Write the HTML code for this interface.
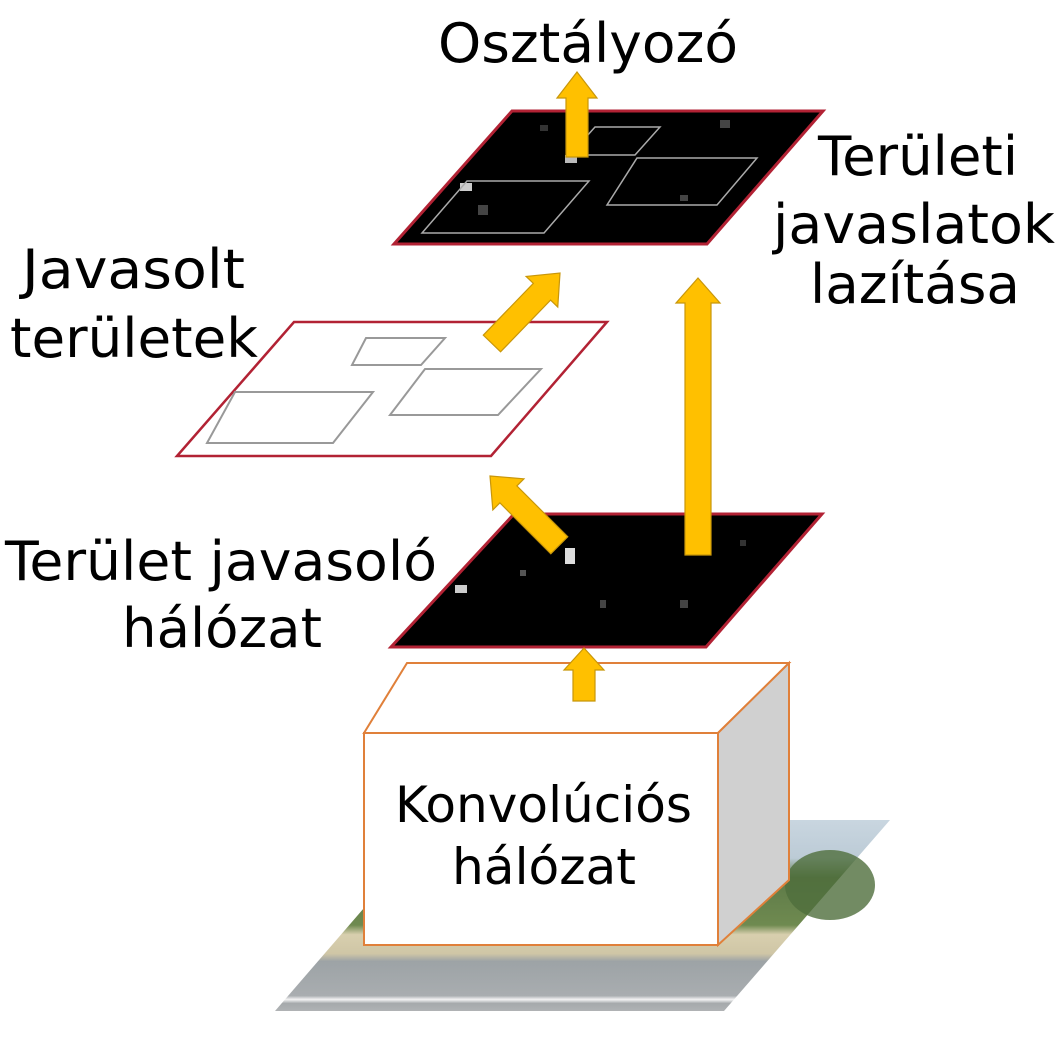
<!DOCTYPE html>
<html><head><meta charset="utf-8"><style>
html,body{margin:0;padding:0;background:#fff;}
svg{display:block;}
text{font-family:"DejaVu Sans","Liberation Sans",sans-serif;fill:#000;}
</style></head><body>
<svg width="1062" height="1044" viewBox="0 0 1062 1044" xmlns="http://www.w3.org/2000/svg">
<defs>
<linearGradient id="ph" x1="0" y1="0" x2="0" y2="1">
<stop offset="0" stop-color="#c9d6e0"/>
<stop offset="0.2" stop-color="#bccbd6"/>
<stop offset="0.3" stop-color="#5d7a48"/>
<stop offset="0.55" stop-color="#6f8a50"/>
<stop offset="0.6" stop-color="#d8cfae"/>
<stop offset="0.7" stop-color="#cfc6a6"/>
<stop offset="0.74" stop-color="#9da3a6"/>
<stop offset="0.92" stop-color="#a9adb0"/>
<stop offset="0.94" stop-color="#f4f4f4"/>
<stop offset="0.96" stop-color="#a5a9ab"/>
<stop offset="1" stop-color="#b0b3b5"/>
</linearGradient>
</defs>

<polygon points="440,820 890,820 724,1011 275,1011" fill="url(#ph)"/>
<ellipse cx="830" cy="885" rx="45" ry="35" fill="#4f6e3c" opacity="0.8"/>

<polygon points="364,733 407,663 789,663 718,733" fill="#fff" stroke="#e0803a" stroke-width="2"/>
<polygon points="718,733 789,663 789,880 718,945" fill="#d0d0d0" stroke="#e0803a" stroke-width="2"/>
<rect x="364" y="733" width="354" height="212" fill="#fff" stroke="#e0803a" stroke-width="2"/>
<text x="395" y="822" font-size="50" textLength="297" lengthAdjust="spacingAndGlyphs">Konvolúciós</text>
<text x="452" y="884" font-size="50" textLength="184" lengthAdjust="spacingAndGlyphs">hálózat</text>

<polygon points="514,514 822,514 706,647 391,647" fill="#000" stroke="#b22234" stroke-width="3"/>
<rect x="565" y="548" width="10" height="16" fill="#ddd"/><rect x="455" y="585" width="12" height="8" fill="#ccc"/>
<rect x="600" y="600" width="6" height="8" fill="#444"/><rect x="680" y="600" width="8" height="8" fill="#444"/>
<rect x="520" y="570" width="6" height="6" fill="#555"/><rect x="740" y="540" width="6" height="6" fill="#333"/>

<polygon points="294,322 607,322 491,456 177,456" fill="#fff" stroke="#b22234" stroke-width="2.5"/>
<g fill="none" stroke="#999" stroke-width="2">
<polygon points="366,338 445,338 421,365 352,365"/>
<polygon points="235,392 373,392 333,443 207,443"/>
<polygon points="425,369 541,369 498,415 390,415"/>
</g>

<polygon points="512,111 823,111 707,244 394,244" fill="#000" stroke="#b22234" stroke-width="3"/>
<rect x="460" y="183" width="12" height="8" fill="#ccc"/><rect x="565" y="155" width="12" height="8" fill="#bbb"/>
<rect x="478" y="205" width="10" height="10" fill="#444"/><rect x="720" y="120" width="10" height="8" fill="#444"/>
<rect x="680" y="195" width="8" height="6" fill="#444"/><rect x="540" y="125" width="8" height="6" fill="#333"/>
<g fill="none" stroke="#aaa" stroke-width="1.5">
<polygon points="595,127 660,127 635,155 570,155"/>
<polygon points="467,181 589,181 544,233 422,233"/>
<polygon points="637,158 757,158 717,205 607,205"/>
</g>

<g fill="#ffc000" stroke="#c8960a" stroke-width="1.2">
<polygon points="584,648 604,670 595,670 595,701 573,701 573,670 564,670"/>
<polygon points="577,72 597,98 588,98 588,157 566,157 566,98 557,98"/>
<polygon points="698,278 720,303 711,303 711,555 685,555 685,303 676,303"/>
<g transform="translate(490,476) rotate(-45)">
<polygon points="0,0 22,26 12,26 12,98 -12,98 -12,26 -22,26"/>
</g>
<g transform="translate(560,273) rotate(44)">
<polygon points="0,0 22,26 12,26 12,98 -12,98 -12,26 -22,26"/>
</g>
</g>

<text x="438" y="62" font-size="54" textLength="300" lengthAdjust="spacingAndGlyphs">Osztályozó</text>
<text x="818" y="175" font-size="54" textLength="200" lengthAdjust="spacingAndGlyphs">Területi</text>
<text x="773" y="243" font-size="54" textLength="282" lengthAdjust="spacingAndGlyphs">javaslatok</text>
<text x="810" y="303" font-size="54" textLength="210" lengthAdjust="spacingAndGlyphs">lazítása</text>
<text x="22" y="288" font-size="54" textLength="223" lengthAdjust="spacingAndGlyphs">Javasolt</text>
<text x="10" y="357" font-size="54" textLength="248" lengthAdjust="spacingAndGlyphs">területek</text>
<text x="5" y="580" font-size="54" textLength="432" lengthAdjust="spacingAndGlyphs">Terület javasoló</text>
<text x="122" y="647" font-size="54" textLength="200" lengthAdjust="spacingAndGlyphs">hálózat</text>
</svg>
</body></html>
